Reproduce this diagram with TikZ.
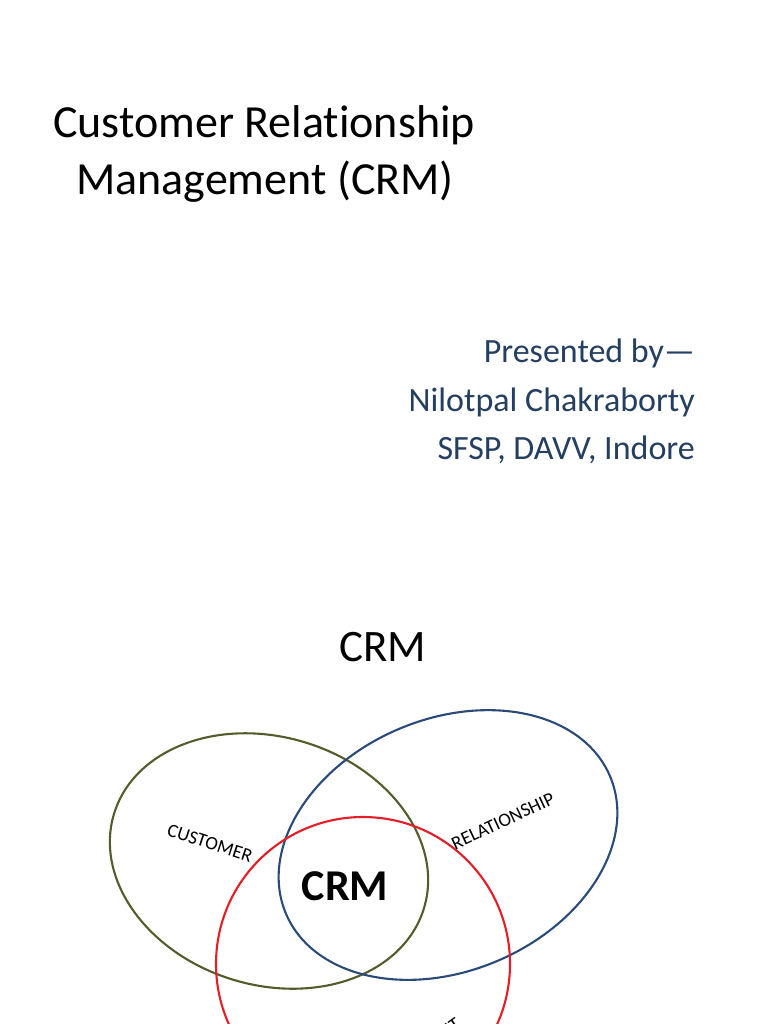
\documentclass[tikz,border=0pt]{standalone}
\usepackage{fontspec}
\setmainfont{Carlito}[Ligatures={TeX,NoCommon}]
\usetikzlibrary{positioning}

\definecolor{custolive}{HTML}{545C2C}
\definecolor{relblue}{HTML}{2A4A7A}
\definecolor{mgmtred}{HTML}{E41E26}
\definecolor{presenterblue}{HTML}{243F60}

\begin{document}
\begin{tikzpicture}[
    x=1pt, y=-1pt,
    title/.style={font=\fontsize{46}{55}\selectfont, anchor=base, inner sep=0pt},
    presenter/.style={font=\fontsize{34}{40}\selectfont, text=presenterblue, anchor=base east, inner sep=0pt},
    ring/.style={line width=2.1pt},
    ringlabel/.style={font=\fontsize{19}{21}\selectfont, inner sep=0pt}
]
    \useasboundingbox (0,0) rectangle (768,1024);
    \fill [white] (0,0) rectangle (768,1024);
    \clip (0,0) rectangle (768,1024);

    \node [title] (title1) at (264,138) {Customer Relationship};
    \node [title] (title2) at (265,195) {Management (CRM)};

    \node [presenter] (by) at (695,362) {Presented by\textemdash};
    \node [presenter] (name) at ([yshift=-49pt]by.base east) {Nilotpal Chakraborty};
    \node [presenter] (inst) at ([yshift=-48pt]name.base east) {SFSP, DAVV, Indore};

    \node [title, font=\fontsize{45}{54}\selectfont] (heading) at (383,661) {CRM};

    \draw [ring, custolive, rotate around={-17:(269,861)}] (269,861) ellipse [x radius=162pt, y radius=124pt];
    \draw [ring, relblue, rotate around={23:(448,845)}] (448,845) ellipse [x radius=176pt, y radius=126pt];
    \draw [ring, mgmtred] (363,964) circle [radius=147pt];

    \node [ringlabel, rotate=-18] (customer) at (210,843) {CUSTOMER};
    \node [ringlabel, rotate=25] (relation) at (503,821) {RELATIONSHIP};
    \node [ringlabel, anchor=base east, rotate=35] (mgmt) at (462,1027) {MANAGEMENT};
    \node [title, font=\bfseries\fontsize{44}{52}\selectfont] (crm) at (345,900) {CRM};
\end{tikzpicture}
\end{document}
